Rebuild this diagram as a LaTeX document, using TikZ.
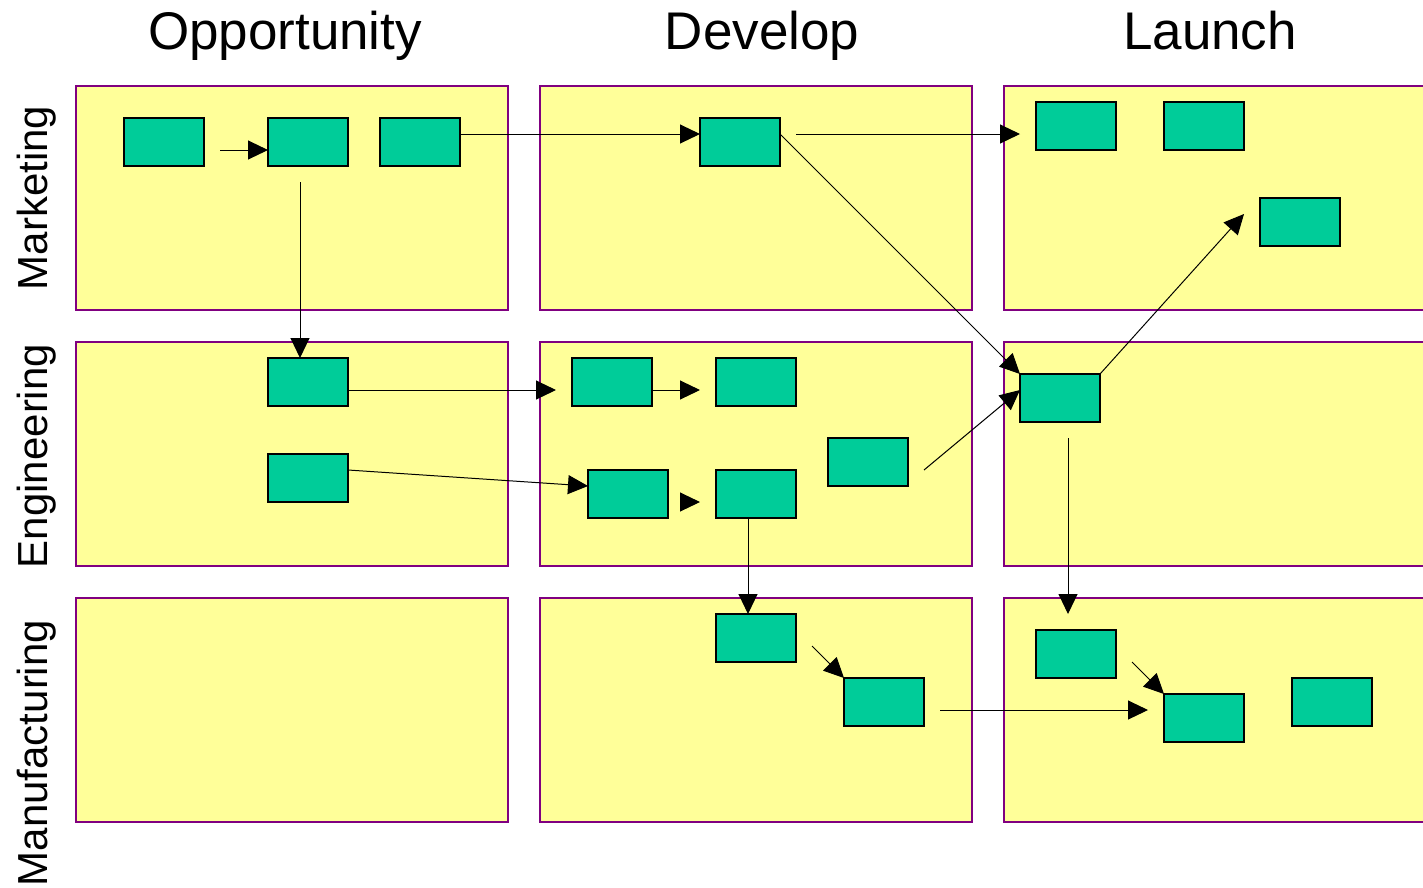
\documentclass[tikz,border=0pt]{standalone}
\usepackage{fontspec}
\setmainfont{Liberation Sans}
\usetikzlibrary{arrows.meta}
\definecolor{panelfill}{HTML}{FFFF99}
\definecolor{panelline}{HTML}{800080}
\definecolor{boxfill}{HTML}{00CC99}
\begin{document}
\begin{tikzpicture}[x=1pt,y=-1pt,
  panel/.style={draw=panelline,fill=panelfill,line width=1.5pt},
  gbox/.style={draw=black,fill=boxfill,line width=1.5pt,minimum width=80pt,minimum height=48pt,inner sep=0pt,outer sep=0pt},
  arr/.style={draw=black,line width=1pt,-{Triangle[length=20pt,width=19pt]}},
  title/.style={font=\fontsize{53}{60}\selectfont,anchor=base},
  lane/.style={font=\fontsize{42}{48}\selectfont,anchor=base,rotate=90}]
\useasboundingbox (0,0) rectangle (1423,887);
\fill[white] (0,0) rectangle (1423,887);
% panels
\path[panel] (76,86) rectangle (508,310);
\path[panel] (540,86) rectangle (972,310);
\path[panel] (1004,86) rectangle (1432,310);
\path[panel] (76,342) rectangle (508,566);
\path[panel] (540,342) rectangle (972,566);
\path[panel] (1004,342) rectangle (1432,566);
\path[panel] (76,598) rectangle (508,822);
\path[panel] (540,598) rectangle (972,822);
\path[panel] (1004,598) rectangle (1432,822);
% titles
\node[title] (t1) at (285,49) {Opportunity};
\node[title] (t2) at (762,49) {Develop};
\node[title] (t3) at (1210,49) {Launch};
\node[lane] (r1) at (47,198) {Marketing};
\node[lane] (r2) at (47,456) {Engineering};
\node[lane] (r3) at (47,753) {Manufacturing};
% boxes
\node[gbox] (m1) at (164,142) {};
\node[gbox] (m2) at (308,142) {};
\node[gbox] (m3) at (420,142) {};
\node[gbox] (d1) at (740,142) {};
\node[gbox] (l1) at (1076,126) {};
\node[gbox] (l2) at (1204,126) {};
\node[gbox] (l3) at (1300,222) {};
\node[gbox] (e1) at (308,382) {};
\node[gbox] (e2) at (308,478) {};
\node[gbox] (de1) at (612,382) {};
\node[gbox] (de2) at (756,382) {};
\node[gbox] (de3) at (628,494) {};
\node[gbox] (de4) at (756,494) {};
\node[gbox] (de5) at (868,462) {};
\node[gbox] (le1) at (1060,398) {};
\node[gbox] (dm1) at (756,638) {};
\node[gbox] (dm2) at (884,702) {};
\node[gbox] (lm1) at (1076,654) {};
\node[gbox] (lm2) at (1204,718) {};
\node[gbox] (lm3) at (1332,702) {};
% connectors
\draw[arr] ([xshift=16pt,yshift=-8pt]m1.east) -- ([yshift=-8pt]m2.west);
\draw[arr] ([yshift=8pt]m3.east) -- ([yshift=8pt]d1.west);
\draw[arr] ([xshift=16pt,yshift=8pt]d1.east) -- ([xshift=-16pt,yshift=-8pt]l1.west);
\draw[arr] ([yshift=8pt]d1.east) -- (le1.north west);
\draw[arr] ([xshift=-8pt,yshift=-16pt]m2.south) -- ([xshift=-8pt]e1.north);
\draw[arr] ([yshift=-8pt]e1.east) -- ([xshift=-16pt,yshift=-8pt]de1.west);
\draw[arr] ([yshift=-8pt]de1.east) -- ([xshift=-16pt,yshift=-8pt]de2.west);
\draw[arr] ([yshift=8pt]e2.east) -- ([yshift=8pt]de3.west);
\draw[arr] ([xshift=-36pt,yshift=-8pt]de4.west) -- ([xshift=-16pt,yshift=-8pt]de4.west);
\draw[arr] ([xshift=16pt,yshift=-8pt]de5.east) -- ([yshift=8pt]le1.west);
\draw[arr] (le1.north east) -- ([xshift=-16pt,yshift=8pt]l3.west);
\draw[arr] ([xshift=-8pt]de4.south) -- ([xshift=-8pt]dm1.north);
\draw[arr] ([xshift=16pt,yshift=-8pt]dm1.east) -- (dm2.north west);
\draw[arr] ([xshift=16pt,yshift=-8pt]dm2.east) -- ([xshift=-16pt,yshift=8pt]lm2.west);
\draw[arr] ([xshift=8pt,yshift=-16pt]le1.south) -- ([xshift=-8pt,yshift=16pt]lm1.north);
\draw[arr] ([xshift=16pt,yshift=-8pt]lm1.east) -- (lm2.north west);
\end{tikzpicture}
\end{document}
